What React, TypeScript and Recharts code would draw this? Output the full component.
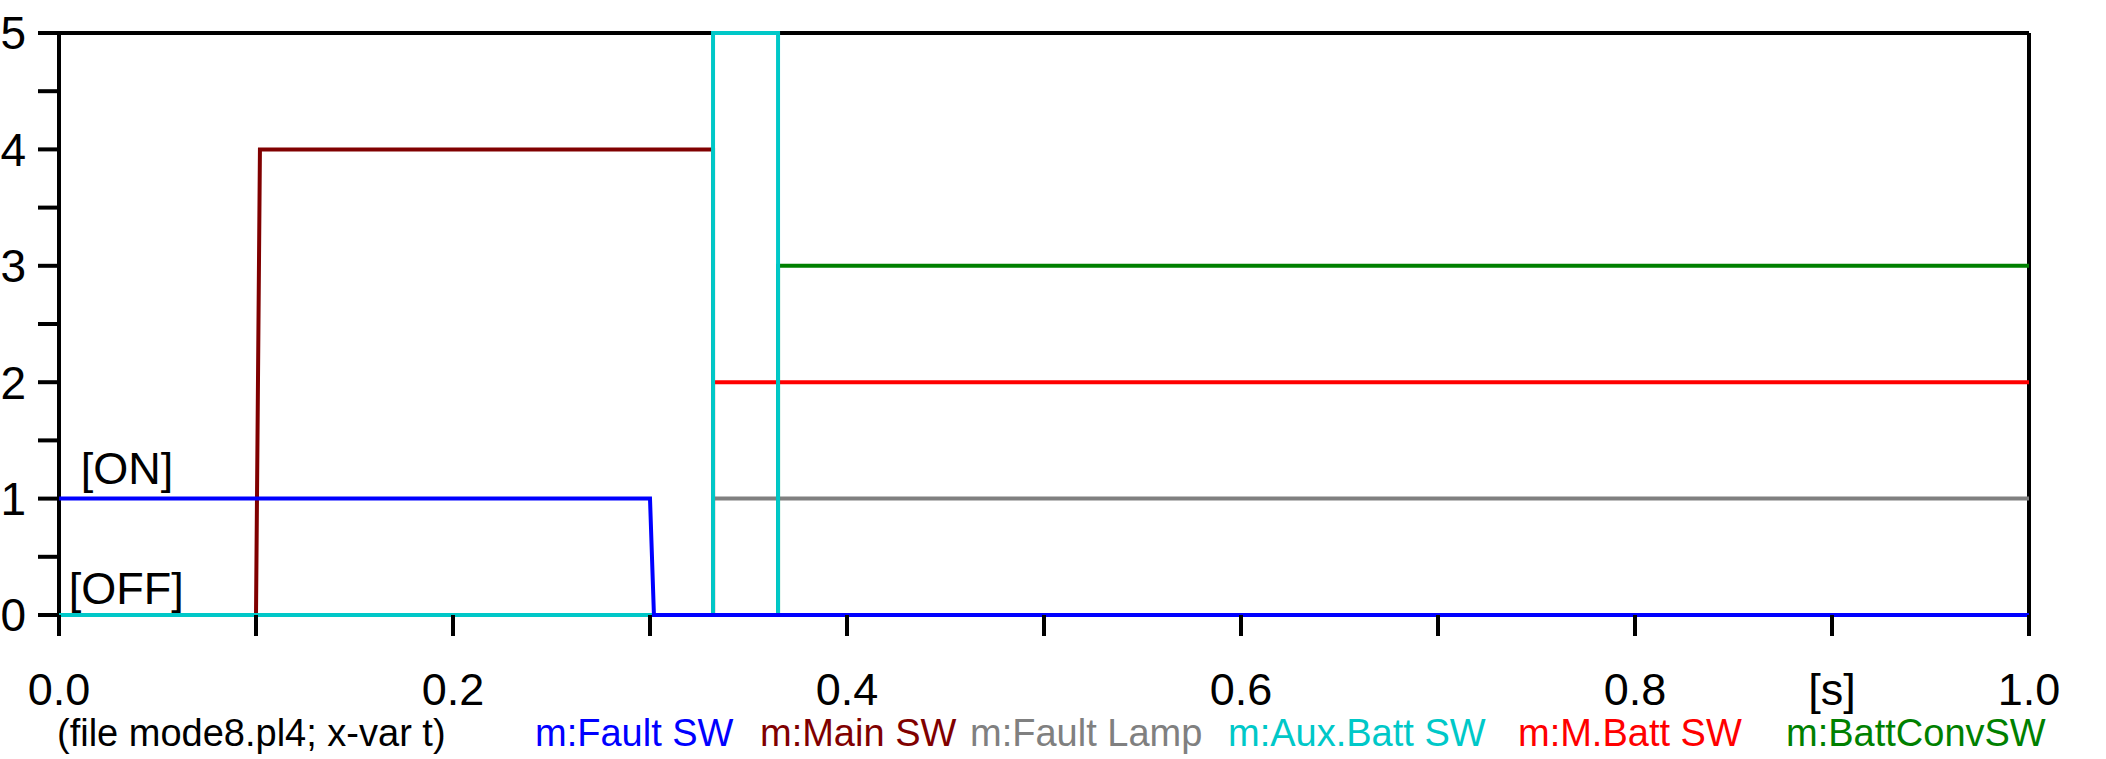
import { LineChart, Line, XAxis, YAxis, ReferenceDot, CartesianGrid } from "recharts"

const FONT = '"Liberation Sans", Arial, Helvetica, sans-serif'

// time [s], value
const faultSw = [[0, 1], [0.3, 1], [0.302, 0], [1, 0]]
const mainSw = [[0, 0], [0.1, 0], [0.102, 4], [0.332, 4], [0.332, 0], [1, 0]]
const faultLamp = [[0, 0], [0.332, 0], [0.332, 1], [1, 1]]
const auxBattSw = [[0, 0], [0.332, 0], [0.332, 5], [0.365, 5], [0.365, 0], [1, 0]]
const mBattSw = [[0, 0], [0.332, 0], [0.332, 2], [1, 2]]
const battConvSw = [[0, 0], [0.365, 0], [0.365, 3], [1, 3]]

const xTicks = [0, 0.1, 0.2, 0.3, 0.4, 0.5, 0.6, 0.7, 0.8, 0.9, 1.0]
const xTickLabels = ["0.0", "", "0.2", "", "0.4", "", "0.6", "", "0.8", "[s]", "1.0"]
const yTicks = [0, 0.5, 1, 1.5, 2, 2.5, 3, 3.5, 4, 4.5, 5]
const yTickLabels = ["0", "", "1", "", "2", "", "3", "", "4", "", "5"]

const fileNote = "(file mode8.pl4; x-var t)"

const series = [
  { name: "m:Fault SW", color: "#0000ff", points: faultSw },
  { name: "m:Main SW", color: "#800000", points: mainSw },
  { name: "m:Fault Lamp", color: "#808080", points: faultLamp },
  { name: "m:Aux.Batt SW", color: "#00c8c8", points: auxBattSw },
  { name: "m:M.Batt SW", color: "#ff0000", points: mBattSw },
  { name: "m:BattConvSW", color: "#008000", points: battConvSw },
]

// draw order in the plot (last one on top)
const drawOrder = ["m:Main SW", "m:Fault Lamp", "m:M.Batt SW", "m:BattConvSW", "m:Aux.Batt SW", "m:Fault SW"]

// legend text left edges (px)
const legendLefts = [57, 535, 760, 970, 1228, 1518, 1786]

const toRows = (pts: number[][]) => pts.map(([t, v]) => ({ t, v }))

const axisStroke = { stroke: "#000", strokeWidth: 4 }

function StateLabel(props: any) {
  const { viewBox, text, dy } = props
  if (!viewBox) return null
  return (
    <text x={viewBox.x} y={viewBox.y + dy} fontSize={45} fontFamily={FONT} fill="#000">
      {text}
    </text>
  )
}

export default function App() {
  const legendItems = [{ name: fileNote, color: "#000" }, ...series]
  return (
    <div style={{ position: "absolute", left: 0, top: 0, width: 2106, height: 759, background: "#fff" }}>
      <LineChart width={2106} height={759} margin={{ top: 33, right: 77, left: 0, bottom: 0 }}>
        <CartesianGrid
          horizontalValues={[0, 5]}
          verticalValues={[0, 1]}
          stroke="#000"
          strokeWidth={4}
        />
        <XAxis
          dataKey="t"
          type="number"
          domain={[0, 1]}
          ticks={xTicks}
          interval={0}
          height={144}
          tickSize={21}
          tickMargin={37}
          axisLine={false}
          tickLine={axisStroke}
          tickFormatter={(v: number) => xTickLabels[xTicks.indexOf(v)] ?? ""}
          tick={{ fontSize: 45, fill: "#000", fontFamily: FONT }}
        />
        <YAxis
          type="number"
          domain={[0, 5]}
          ticks={yTicks}
          interval={0}
          width={59}
          tickSize={21}
          tickMargin={12}
          axisLine={false}
          tickLine={axisStroke}
          tickFormatter={(v: number) => yTickLabels[yTicks.indexOf(v)] ?? ""}
          tick={{ fontSize: 46, fill: "#000", fontFamily: FONT }}
        />
        {drawOrder.map((n) => {
          const s = series.find((x) => x.name === n)!
          return (
            <Line
              key={s.name}
              data={toRows(s.points)}
              dataKey="v"
              name={s.name}
              type="linear"
              stroke={s.color}
              strokeWidth={4}
              dot={false}
              activeDot={false}
              isAnimationActive={false}
            />
          )
        })}
        <ReferenceDot
          x={0.011}
          y={1}
          r={0}
          fill="none"
          stroke="none"
          ifOverflow="visible"
          label={<StateLabel text="[ON]" dy={-15} />}
        />
        <ReferenceDot
          x={0.005}
          y={0}
          r={0}
          fill="none"
          stroke="none"
          ifOverflow="visible"
          label={<StateLabel text="[OFF]" dy={-11} />}
        />
      </LineChart>
      {legendItems.map((item, i) => (
        <span
          key={item.name}
          style={{
            position: "absolute",
            left: legendLefts[i],
            top: 714,
            color: item.color,
            fontFamily: FONT,
            fontSize: 38,
            lineHeight: "38px",
            whiteSpace: "nowrap",
          }}
        >
          {item.name}
        </span>
      ))}
    </div>
  )
}
